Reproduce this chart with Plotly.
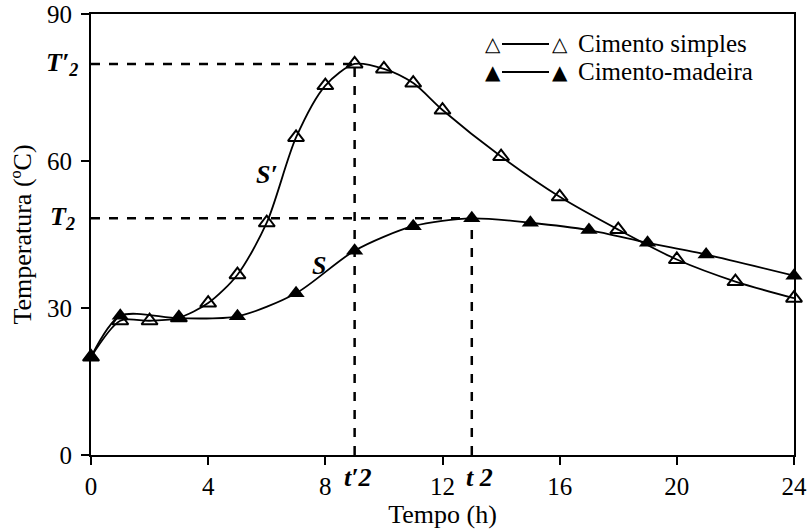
import plotly.graph_objects as go

# Data
hours_simples = [0, 1, 2, 3, 4, 5, 6, 7, 8, 9, 10, 11, 12, 14, 16, 18, 20, 22, 24]
temp_simples = [20, 27.4, 27.4, 28, 31, 36.8, 47.4, 64.8, 75.4, 79.8, 78.8, 75.9, 70.4, 60.9, 52.7, 46, 39.9, 35.4, 32]

hours_madeira = [0, 1, 3, 5, 7, 9, 11, 13, 15, 17, 19, 21, 24]
temp_madeira = [20, 28.4, 27.9, 28.3, 33, 41.7, 46.7, 48.3, 47.4, 45.9, 43.3, 40.9, 36.6]

peak_simples_t, peak_simples_T = 9, 79.8
peak_madeira_t, peak_madeira_T = 13, 48.3

x_ticks = [0, 4, 8, 12, 16, 20, 24]
y_ticks = [0, 30, 60, 90]

FONT = "Liberation Serif, Times New Roman, Times, serif"

fig = go.Figure()

fig.add_trace(go.Scatter(
    x=hours_simples, y=temp_simples, mode="lines+markers", name="Cimento simples",
    line=dict(color="black", width=1.8, shape="spline", smoothing=0.8),
    marker=dict(symbol="triangle-up-open", size=14, color="black", line=dict(width=2)),
    cliponaxis=False, showlegend=False))

fig.add_trace(go.Scatter(
    x=hours_madeira, y=temp_madeira, mode="lines+markers", name="Cimento-madeira",
    line=dict(color="black", width=1.8, shape="spline", smoothing=0.8),
    marker=dict(symbol="triangle-up", size=15, color="black"),
    cliponaxis=False, showlegend=False))

dash = dict(color="black", width=2.5, dash="dash")
shapes = [
    dict(type="line", xref="x", yref="y", x0=0, x1=peak_simples_t, y0=peak_simples_T, y1=peak_simples_T, line=dash, layer="below"),
    dict(type="line", xref="x", yref="y", x0=peak_simples_t, x1=peak_simples_t, y0=0, y1=peak_simples_T, line=dash, layer="below"),
    dict(type="line", xref="x", yref="y", x0=0, x1=peak_madeira_t, y0=peak_madeira_T, y1=peak_madeira_T, line=dash, layer="below"),
    dict(type="line", xref="x", yref="y", x0=peak_madeira_t, x1=peak_madeira_t, y0=0, y1=peak_madeira_T, line=dash, layer="below"),
]

W, H = 809, 531
L, R, T, B = 91, 15, 14, 76
pw, ph = W - L - R, H - T - B

def px(xp):
    return (xp - L) / pw

def py(yp):
    return (H - B - yp) / ph

legend_rows = [(44, "△", "Cimento simples"), (72, "▲", "Cimento-madeira")]
for row_y, sym, label in legend_rows:
    shapes.append(dict(type="line", xref="paper", yref="paper", x0=px(502), x1=px(549),
                       y0=py(row_y), y1=py(row_y), line=dict(color="black", width=1.8)))
annotations = []
for row_y, sym, label in legend_rows:
    for xx in (493, 560):
        annotations.append(dict(x=px(xx), y=py(row_y), xref="paper", yref="paper", text=sym,
                                showarrow=False, font=dict(family="DejaVu Sans", size=20, color="black"),
                                xanchor="center", yanchor="middle"))
    annotations.append(dict(x=px(576), y=py(row_y), xref="paper", yref="paper", text=label,
                            showarrow=False, font=dict(family=FONT, size=25, color="black"),
                            xanchor="left", yanchor="middle"))

lab = dict(family=FONT, size=26, color="black")
annotations += [
    dict(x=px(62), y=peak_simples_T, xref="paper", yref="y", text="<b><i>T′<sub>2</sub></i></b>",
         showarrow=False, font=lab, xanchor="center", yanchor="middle"),
    dict(x=px(62), y=peak_madeira_T, xref="paper", yref="y", text="<b><i>T<sub>2</sub></i></b>",
         showarrow=False, font=lab, xanchor="center", yanchor="middle"),
    dict(x=peak_simples_t, y=py(478), xref="x", yref="paper", text="<b><i>t′2</i></b>",
         showarrow=False, font=lab, xanchor="center", yanchor="middle", xshift=3),
    dict(x=peak_madeira_t, y=py(478), xref="x", yref="paper", text="<b><i>t 2</i></b>",
         showarrow=False, font=lab, xanchor="center", yanchor="middle", xshift=8),
    dict(x=6.0, y=57.3, xref="x", yref="y", text="<b><i>S′</i></b>",
         showarrow=False, font=lab, xanchor="center", yanchor="middle"),
    dict(x=7.8, y=38.6, xref="x", yref="y", text="<b><i>S</i></b>",
         showarrow=False, font=lab, xanchor="center", yanchor="middle"),
]

axis_common = dict(showline=True, linecolor="black", linewidth=2, mirror=True,
                   ticks="outside", ticklen=8, tickwidth=2, tickcolor="black",
                   showgrid=False, zeroline=False, automargin=False,
                   tickfont=dict(family=FONT, size=25, color="black"))

fig.update_layout(
    width=W, height=H,
    margin=dict(l=L, r=R, t=T, b=B),
    paper_bgcolor="white", plot_bgcolor="white",
    xaxis=dict(range=[0, 24], tickvals=x_ticks, ticktext=[str(v) for v in x_ticks],
               title=dict(text="Tempo (h)", font=dict(family=FONT, size=26, color="black"), standoff=2),
               **axis_common),
    yaxis=dict(range=[0, 90], tickvals=y_ticks, ticktext=[str(v) for v in y_ticks],
               ticklabelstandoff=4,
               title=dict(text="Temperatura (ºC)", font=dict(family=FONT, size=26, color="black"), standoff=8),
               **axis_common),
    shapes=shapes,
    annotations=annotations,
)

fig.write_html("out.html", config={"displayModeBar": False},
               post_script="document.body.style.margin='0';")
